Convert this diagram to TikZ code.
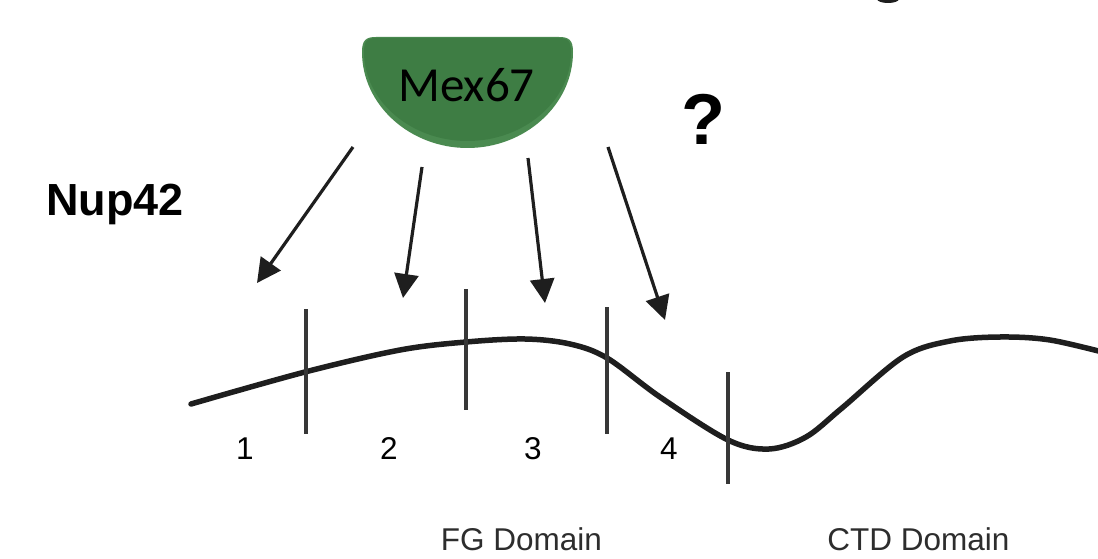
\documentclass[tikz,border=0pt]{standalone}
\usepackage{fontspec}
\setmainfont{Liberation Sans}
\newfontfamily\calib{Carlito}
\usetikzlibrary{arrows.meta}
\definecolor{mexgreen}{RGB}{62,125,68}
\definecolor{mexedge}{RGB}{74,138,80}
\definecolor{ink}{RGB}{30,30,30}
\definecolor{tickgray}{RGB}{55,55,55}
\definecolor{labgray}{RGB}{45,45,45}
\begin{document}
\begin{tikzpicture}[x=1pt,y=-1pt,
  arr/.style={draw=ink, line width=3.2pt, -{Triangle[length=24pt,width=24pt]}},
  chain/.style={draw=ink, line width=5.5pt, line cap=round},
  tickline/.style={draw=tickgray, line width=3.3pt},
  numlab/.style={anchor=base, inner sep=0pt, font=\fontsize{31.5}{36}\selectfont},
  domlab/.style={anchor=base, inner sep=0pt, text=labgray, font=\fontsize{31.5}{36}\selectfont}]
\useasboundingbox (0,0) rectangle (1098,559);
\fill[white] (0,0) rectangle (1098,559);
\begin{scope}
\clip (0,0) rectangle (1098,559);
% small cut-off fragment at the top edge
\fill[ink] (888,-1) ellipse [x radius=11pt, y radius=4pt];
% backbone curve
\draw[chain] plot[smooth, tension=0.55] coordinates {
  (191,404) (305,372) (400,350) (466,342) (525,339) (570,344) (607,358)
  (660,397) (728,440) (769,449) (806,437) (842,408) (903,357) (950,341)
  (1000,337) (1050,340) (1110,354)};
\end{scope}
% Mex67 shape
\fill[mexedge] (362,52) .. controls (362,40) and (366,37) .. (376,37)
  -- (559,37) .. controls (569,37) and (573,40) .. (573,52)
  .. controls (573,105) and (525,148) .. (467.5,148)
  .. controls (410,148) and (362,105) .. (362,52) -- cycle;
\fill[mexgreen] (364,52) .. controls (364,41) and (367,38) .. (377,38)
  -- (558,38) .. controls (568,38) and (571,41) .. (571,52)
  .. controls (571,101) and (524,141) .. (467.5,141)
  .. controls (411,141) and (364,101) .. (364,52) -- cycle;
\node[anchor=base, inner sep=0pt, font=\calib\fontsize{49}{56}\selectfont] (mex) at (466.5,102) {Mex67};
\node[anchor=base, inner sep=0pt, font=\bfseries\fontsize{72}{80}\selectfont] (q) at (703.5,145) {?};
\node[anchor=base west, inner sep=0pt, font=\bfseries\fontsize{45}{52}\selectfont] (nup) at (46,215) {Nup42};
% arrows
\coordinate (s1) at (353,147); \coordinate (e1) at (257,283);
\coordinate (s2) at (422,167); \coordinate (e2) at (403,298);
\coordinate (s3) at (528,158); \coordinate (e3) at (545,303);
\coordinate (s4) at (608,147); \coordinate (e4) at (665,320);
\draw[arr] (s1) -- (e1);
\draw[arr] (s2) -- (e2);
\draw[arr] (s3) -- (e3);
\draw[arr] (s4) -- (e4);
% ticks
\coordinate (t1a) at (306,309); \coordinate (t1b) at (306,434);
\coordinate (t2a) at (466,289); \coordinate (t2b) at (466,410);
\coordinate (t3a) at (607,307); \coordinate (t3b) at (607,434);
\coordinate (t4a) at (728,372); \coordinate (t4b) at (728,484);
\draw[tickline] (t1a) -- (t1b);
\draw[tickline] (t2a) -- (t2b);
\draw[tickline] (t3a) -- (t3b);
\draw[tickline] (t4a) -- (t4b);
% labels
\node[numlab] (n1) at (245,459) {1};
\node[numlab] (n2) at (389,459) {2};
\node[numlab] (n3) at (533,459) {3};
\node[numlab] (n4) at (669,459) {4};
\node[domlab] (fg) at (521.5,550) {FG Domain};
\node[domlab] (ctd) at (918.5,550) {CTD Domain};
\end{tikzpicture}
\end{document}
